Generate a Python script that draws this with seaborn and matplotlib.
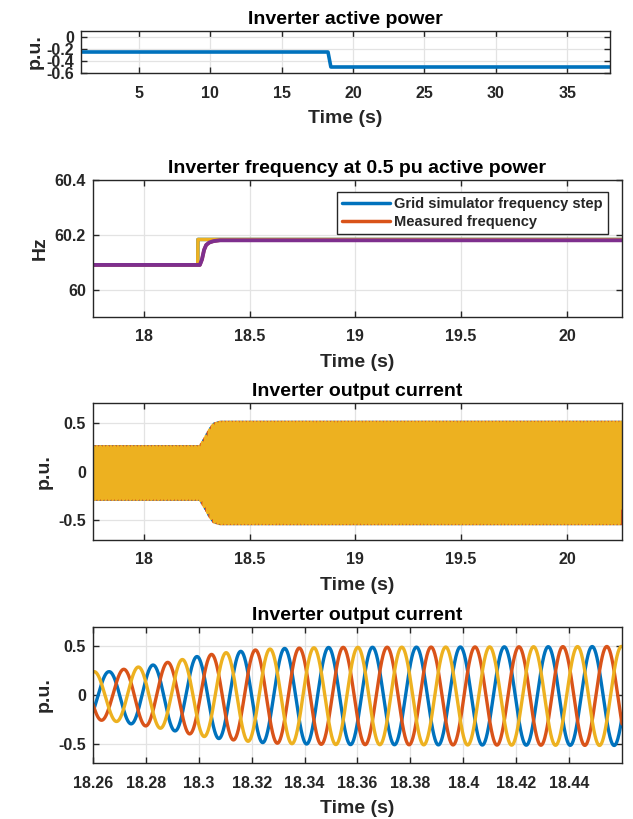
import numpy as np
import pandas as pd
import matplotlib
matplotlib.use("Agg")
import matplotlib.pyplot as plt
import seaborn as sns

# ---------------- data ----------------
# Panel 1: inverter active power (p.u.)
power_time = [1.0, 18.25, 18.45, 38.0]
power_value = [-0.25, -0.25, -0.5, -0.5]

# Panel 2: frequency (Hz)
grid_time = [17.76, 18.255, 18.256, 20.26]
grid_freq = [60.09, 60.09, 60.183, 60.183]
meas_time = [17.76, 18.265, 18.275, 18.285, 18.295, 18.31, 18.33, 18.36, 20.26]
meas_freq = [60.09, 60.09, 60.11, 60.145, 60.163, 60.172, 60.177, 60.18, 60.18]

# Panel 3: current envelope over the long window (p.u.)
env3_time = [17.76, 18.265, 18.29, 18.31, 18.33, 18.36, 20.26]
env3_amp = [0.27, 0.27, 0.36, 0.44, 0.50, 0.52, 0.52]
env3_offset = -0.015

# Panel 4: current envelope over the zoomed window (p.u.)
env4_time = [18.26, 18.266, 18.275, 18.283, 18.291, 18.300, 18.308, 18.316,
             18.324, 18.333, 18.35, 18.46]
env4_amp = [0.25, 0.25, 0.29, 0.32, 0.36, 0.41, 0.44, 0.46, 0.48, 0.49, 0.50, 0.51]
env4_offset = -0.01

line_freq_hz = 60.2
blue_peak_time = 18.266
phase_names = ["Phase A", "Phase B", "Phase C"]
phase_shift_deg = [0, -120, -240]

legend_labels = ["Grid simulator frequency step", "Measured frequency"]

# ---------------- styling ----------------
sns.set_style("ticks")
plt.rcParams["font.family"] = ["Liberation Sans", "DejaVu Sans"]
plt.rcParams["font.weight"] = "bold"
plt.rcParams["axes.titleweight"] = "bold"
plt.rcParams["axes.labelweight"] = "bold"

C_BLUE, C_ORANGE, C_YELLOW, C_PURPLE = "#0072BD", "#D95319", "#EDB120", "#7E2F8E"
phase_colors = [C_BLUE, C_ORANGE, C_YELLOW]
DARK = "#262626"

W, H = 633, 819
fig = plt.figure(figsize=(W / 100, H / 100), dpi=100)


def add_axes(left, top, right, bottom):
    return fig.add_axes([left / W, 1 - bottom / H, (right - left) / W, (bottom - top) / H])


ax1 = add_axes(81, 31, 610, 73)
ax2 = add_axes(93, 180, 622, 317)
ax3 = add_axes(93, 403, 622, 540)
ax4 = add_axes(93, 627, 622, 763)


def style(ax, title):
    ax.set_title(title, fontsize=14, fontweight="bold", color="black", pad=5)
    ax.set_xlabel("Time (s)", fontsize=14, fontweight="bold", color=DARK, labelpad=6.5)
    ax.grid(True, color="#e3e3e3", linewidth=0.9)
    ax.set_axisbelow(True)
    for s in ax.spines.values():
        s.set_color(DARK)
        s.set_linewidth(1.0)
        s.set_visible(True)
    ax.tick_params(direction="in", length=4, width=1, color=DARK,
                   top=True, right=True, labelsize=11.5, labelcolor=DARK)
    ax.tick_params(axis="x", pad=9)
    ax.tick_params(axis="y", pad=5)
    for lab in ax.get_xticklabels() + ax.get_yticklabels():
        lab.set_fontweight("bold")


def waveforms(t_grid, env_t, env_a, offset):
    amp = np.interp(t_grid, env_t, env_a)
    rows = []
    for name, sh in zip(phase_names, phase_shift_deg):
        y = amp * np.cos(2 * np.pi * line_freq_hz * (t_grid - blue_peak_time) + np.deg2rad(sh)) + offset
        rows.append(pd.DataFrame({"t": t_grid, "i": y, "phase": name}))
    return pd.concat(rows, ignore_index=True)


# ---- Panel 1
df1 = pd.DataFrame({"t": power_time, "p": power_value})
sns.lineplot(data=df1, x="t", y="p", ax=ax1, color=C_BLUE, linewidth=2.6, estimator=None, sort=False)
ax1.set_xlim(0.95, 38.0)
ax1.set_ylim(-0.6, 0.1)
ax1.set_xticks([5, 10, 15, 20, 25, 30, 35])
ax1.set_xticklabels(["5", "10", "15", "20", "25", "30", "35"])
ax1.set_yticks([-0.6, -0.4, -0.2, 0])
ax1.set_yticklabels(["-0.6", "-0.4", "-0.2", "0"])
ax1.set_ylabel("p.u.", fontsize=14, fontweight="bold", color=DARK, labelpad=2)
style(ax1, "Inverter active power")

# ---- Panel 2
dg = pd.DataFrame({"t": grid_time, "f": grid_freq})
dm = pd.DataFrame({"t": meas_time, "f": meas_freq})
sns.lineplot(data=dg, x="t", y="f", ax=ax2, color=C_BLUE, linewidth=2.5, estimator=None, sort=False,
             label=legend_labels[0])
sns.lineplot(data=dm, x="t", y="f", ax=ax2, color=C_ORANGE, linewidth=2.5, estimator=None, sort=False,
             label=legend_labels[1])
sns.lineplot(data=dg, x="t", y="f", ax=ax2, color=C_YELLOW, linewidth=2.5, estimator=None, sort=False)
sns.lineplot(data=dm, x="t", y="f", ax=ax2, color=C_PURPLE, linewidth=2.8, estimator=None, sort=False)
ax2.set_xlim(17.76, 20.26)
ax2.set_ylim(59.9, 60.4)
ax2.set_xticks([18, 18.5, 19, 19.5, 20])
ax2.set_xticklabels(["18", "18.5", "19", "19.5", "20"])
ax2.set_yticks([60, 60.2, 60.4])
ax2.set_yticklabels(["60", "60.2", "60.4"])
ax2.set_ylabel("Hz", fontsize=14, fontweight="bold", color=DARK, labelpad=4)
style(ax2, "Inverter frequency at 0.5 pu active power")
h, l = ax2.get_legend_handles_labels()
leg = ax2.legend(h[:2], l[:2], loc="upper right", bbox_to_anchor=(1 - 14 / 529, 1 - 12 / 137),
                 borderaxespad=0, frameon=True, fancybox=False, framealpha=1, edgecolor=DARK,
                 prop={"weight": "bold", "size": 10.5}, handlelength=3.3, handletextpad=0.3,
                 labelspacing=0.25, borderpad=0.35)
leg.get_frame().set_linewidth(1.0)

# ---- Panel 3
t3 = np.linspace(17.76, 20.26, 30000)
df3 = waveforms(t3, env3_time, env3_amp, env3_offset)
sns.lineplot(data=df3, x="t", y="i", hue="phase", palette=phase_colors, ax=ax3,
             linewidth=2.2, estimator=None, sort=False, legend=False)
ax3.set_xlim(17.76, 20.26)
ax3.set_ylim(-0.7, 0.7)
ax3.set_xticks([18, 18.5, 19, 19.5, 20])
ax3.set_xticklabels(["18", "18.5", "19", "19.5", "20"])
ax3.set_yticks([-0.5, 0, 0.5])
ax3.set_yticklabels(["-0.5", "0", "0.5"])
ax3.set_ylabel("p.u.", fontsize=14, fontweight="bold", color=DARK, labelpad=4)
style(ax3, "Inverter output current")

# ---- Panel 4
t4 = np.linspace(18.26, 18.46, 4000)
df4 = waveforms(t4, env4_time, env4_amp, env4_offset)
sns.lineplot(data=df4, x="t", y="i", hue="phase", palette=phase_colors, ax=ax4,
             linewidth=2.4, estimator=None, sort=False, legend=False)
ax4.set_xlim(18.26, 18.46)
ax4.set_ylim(-0.7, 0.7)
xt4 = [18.26, 18.28, 18.3, 18.32, 18.34, 18.36, 18.38, 18.4, 18.42, 18.44]
ax4.set_xticks(xt4)
ax4.set_xticklabels(["18.26", "18.28", "18.3", "18.32", "18.34", "18.36", "18.38", "18.4", "18.42", "18.44"])
ax4.set_yticks([-0.5, 0, 0.5])
ax4.set_yticklabels(["-0.5", "0", "0.5"])
ax4.set_ylabel("p.u.", fontsize=14, fontweight="bold", color=DARK, labelpad=4)
style(ax4, "Inverter output current")

fig.savefig("out.png", dpi=100, facecolor="white")
